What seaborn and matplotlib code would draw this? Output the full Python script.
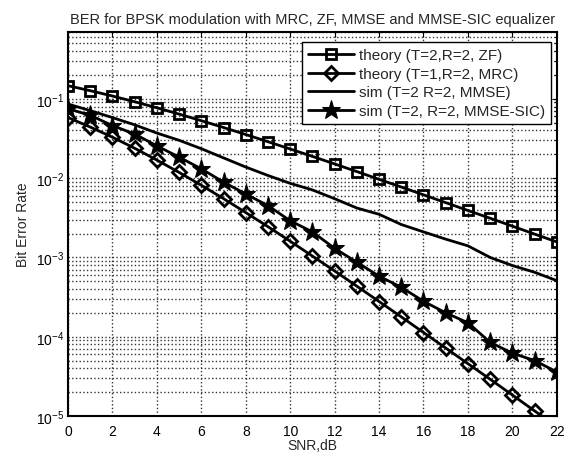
import numpy as np
import pandas as pd
import matplotlib
matplotlib.use("Agg")
import matplotlib.pyplot as plt
from matplotlib.ticker import LogLocator, NullFormatter
import seaborn as sns

# data (SNR in dB, BER)
snr_db = list(range(0, 23))
ber_zf_theory = [0.1464, 0.1267, 0.1085, 0.0919, 0.0771, 0.0642, 0.0530, 0.0435,
                 0.0355, 0.0288, 0.0233, 0.0188, 0.0151, 0.0121, 0.00966, 0.00772,
                 0.00616, 0.00491, 0.00391, 0.00312, 0.00248, 0.00197, 0.00157]
ber_mrc_theory = [0.0581, 0.0441, 0.0328, 0.0238, 0.0169, 0.0118, 0.00813, 0.00551,
                  0.00368, 0.00244, 0.00160, 0.00104, 0.000675, 0.000434, 0.000278,
                  0.000178, 0.000113, 7.2e-5, 4.57e-5, 2.91e-5, 1.84e-5, 1.16e-5, 7.4e-6]
ber_mmse_sim = [0.086, 0.071, 0.058, 0.047, 0.037, 0.030, 0.0235, 0.018, 0.0138,
                0.0108, 0.0086, 0.0071, 0.0055, 0.0042, 0.0035, 0.0026, 0.0021,
                0.0017, 0.0014, 0.00100, 0.00079, 0.00065, 0.00051]
ber_sic_sim = [0.075, 0.062, 0.046, 0.036, 0.0255, 0.0184, 0.0131, 0.0089, 0.0063,
               0.0045, 0.0029, 0.0021, 0.0013, 0.00087, 0.00058, 0.00042, 0.00028,
               0.00020, 0.00015, 8.5e-5, 6.2e-5, 5.0e-5, 3.6e-5]

labels = ["theory (T=2,R=2, ZF)", "theory (T=1,R=2, MRC)",
          "sim (T=2 R=2, MMSE)", "sim (T=2, R=2, MMSE-SIC)"]

df = pd.DataFrame({"snr": snr_db, "zf": ber_zf_theory, "mrc": ber_mrc_theory,
                   "mmse": ber_mmse_sim, "sic": ber_sic_sim})

sns.set_style("white")
plt.rcParams["font.family"] = ["Liberation Sans", "DejaVu Sans"]
plt.rcParams["mathtext.default"] = "regular"

fig, ax = plt.subplots(figsize=(5.67, 4.56), dpi=100)
fig.subplots_adjust(left=0.12, right=0.982, bottom=0.0855, top=0.928)

lw = 2.0
sns.lineplot(data=df, x="snr", y="zf", ax=ax, color="black", lw=lw, marker="s",
             markersize=7.5, markerfacecolor="none", markeredgecolor="black",
             markeredgewidth=2, label=labels[0])
sns.lineplot(data=df, x="snr", y="mrc", ax=ax, color="black", lw=lw, marker="D",
             markersize=7, markerfacecolor="none", markeredgecolor="black",
             markeredgewidth=2, label=labels[1])
sns.lineplot(data=df, x="snr", y="mmse", ax=ax, color="black", lw=lw, label=labels[2])
sns.lineplot(data=df, x="snr", y="sic", ax=ax, color="black", lw=lw, marker="*",
             markersize=14, markerfacecolor="black", markeredgecolor="black",
             label=labels[3])

ax.set_yscale("log")
ax.set_xlim(0, 22)
ax.set_ylim(1e-5, 0.7)
ax.set_xticks(range(0, 23, 2))
ax.yaxis.set_major_locator(LogLocator(base=10, numticks=10))
ax.yaxis.set_minor_locator(LogLocator(base=10, subs=np.arange(2, 10), numticks=20))
ax.yaxis.set_minor_formatter(NullFormatter())

ax.grid(True, which="major", axis="both", color="0.2", ls=":", lw=1.0)
ax.grid(True, which="minor", axis="y", color="0.2", ls=":", lw=1.0)
ax.tick_params(which="both", direction="in", top=True, right=True,
               labelsize=10, colors="black")
ax.tick_params(axis="x", pad=6)
ax.tick_params(axis="y", pad=3)
for s in ax.spines.values():
    s.set_linewidth(1.5)
    s.set_color("black")

ax.set_title("BER for BPSK modulation with MRC, ZF, MMSE and MMSE-SIC equalizer",
             fontsize=10.5, pad=6)
ax.set_xlabel("SNR,dB", fontsize=10, labelpad=0)
ax.set_ylabel("Bit Error Rate", fontsize=10, labelpad=4)

leg = ax.legend(loc="upper right", bbox_to_anchor=(0.998, 0.985), fontsize=11,
                frameon=True, fancybox=False, edgecolor="black", framealpha=1,
                handlelength=3.0, handletextpad=0.35, borderpad=0.4,
                labelspacing=0.3, borderaxespad=0.3)
leg.get_frame().set_linewidth(1.0)

plt.savefig("out.png", dpi=100)
